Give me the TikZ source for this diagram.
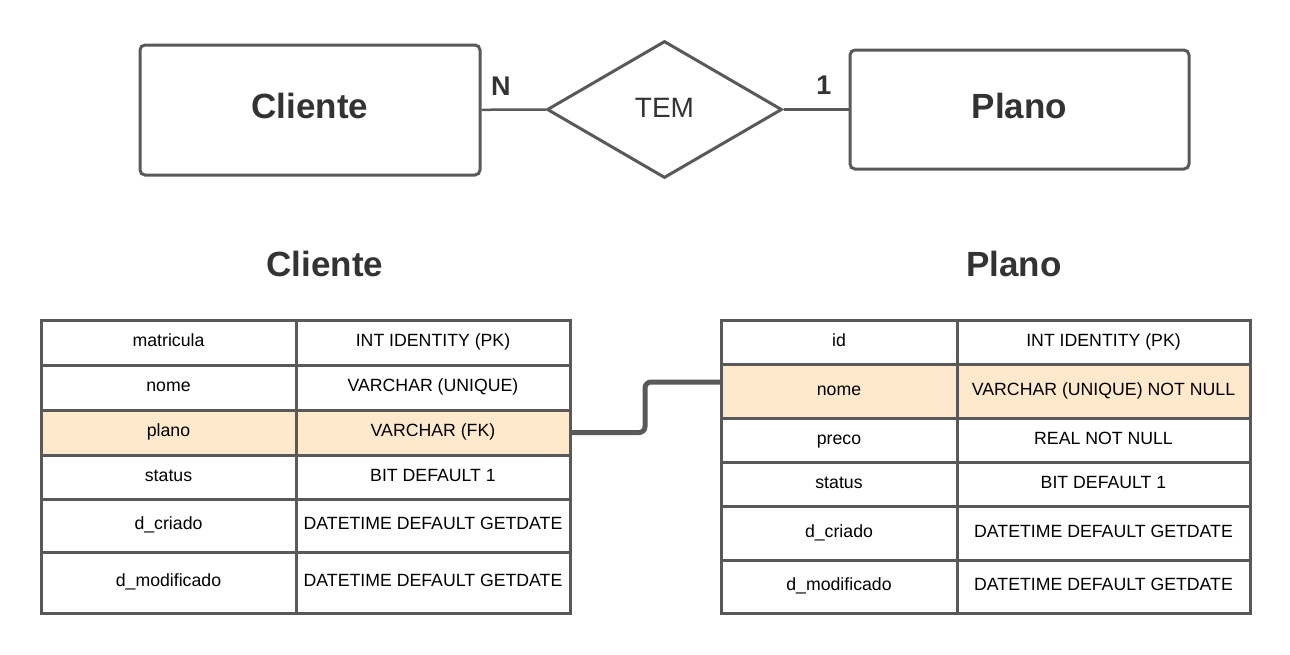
\documentclass[tikz,border=0pt]{standalone}
\usepackage{fontspec}
\setmainfont{Liberation Sans}
\usetikzlibrary{shapes.geometric}
\usetikzlibrary{positioning}
\definecolor{linegray}{HTML}{595959}
\definecolor{textgray}{HTML}{333333}
\definecolor{keyfill}{HTML}{FFE9CC}

\begin{document}
\begin{tikzpicture}[x=1pt,y=-1pt,
    entity/.style={draw=linegray,line width=3pt,rounded corners=5pt,inner sep=0pt,
                   font=\fontsize{35}{42}\selectfont\bfseries,text=textgray,text height=25pt,text depth=8pt},
    relation/.style={diamond,draw=linegray,line width=3pt,aspect=1.72,inner sep=0pt,
                     minimum width=235pt,minimum height=137pt,font=\fontsize{28}{34}\selectfont,text=textgray,
                     text height=20pt,text depth=4pt},
    heading/.style={font=\fontsize{35}{42}\selectfont\bfseries,text=textgray,text height=25pt,text depth=0pt},
    card/.style={font=\fontsize{27}{32}\selectfont\bfseries,text=textgray},
    cell/.style={draw=linegray,line width=3pt,fill=white,outer sep=0pt,inner sep=0pt,
                 font=\fontsize{17.7}{21}\selectfont,text height=12.5pt,text depth=4pt},
    key cell/.style={cell,fill=keyfill}]

  \useasboundingbox (0,0) rectangle (1290,654);

  % conceptual model
  \node[entity,minimum width=340pt,minimum height=130pt] (cli) at (310,110) {Cliente};
  \node[relation] (tem) at (664.5,109.5) {TEM};
  \node[entity,minimum width=339pt,minimum height=119pt] (pla) at (1019.5,109.5) {Plano};

  \path[draw=linegray,line width=2.5pt]
    (cli) edge node[card,pos=.3,above=10pt] {N} (tem)
    (tem) edge node[card,pos=.62,above=10pt] {1} (pla);

  % tables
  \node[heading] (tcli) at (325,264) {Cliente};
  \node[heading] (tpla) at (1014,264) {Plano};

  \foreach \ya/\yb/\s/\ka/\kb [count=\i] in {
      320/365/cell/matricula/INT IDENTITY (PK),
      365/410/cell/nome/VARCHAR (UNIQUE),
      410/455/key cell/plano/VARCHAR (FK),
      455/499/cell/status/BIT DEFAULT 1,
      499/552/cell/d\_criado/DATETIME DEFAULT GETDATE,
      552/613/cell/d\_modificado/DATETIME DEFAULT GETDATE} {
    \node[\s,minimum width=255pt,minimum height={(\yb-\ya)*1pt}] (L\i a) at (168.5,{(\ya+\yb)/2}) {\ka};
    \node[\s,minimum width=274pt,minimum height={(\yb-\ya)*1pt}] (L\i b) at (433,{(\ya+\yb)/2}) {\kb};
  }

  \foreach \ya/\yb/\s/\ka/\kb [count=\i] in {
      320/364/cell/id/INT IDENTITY (PK),
      364/418/key cell/nome/VARCHAR (UNIQUE) NOT NULL,
      418/462/cell/preco/REAL NOT NULL,
      462/506/cell/status/BIT DEFAULT 1,
      506/560/cell/d\_criado/DATETIME DEFAULT GETDATE,
      560/613/cell/d\_modificado/DATETIME DEFAULT GETDATE} {
    \node[\s,minimum width=236pt,minimum height={(\yb-\ya)*1pt}] (R\i a) at (839,{(\ya+\yb)/2}) {\ka};
    \node[\s,minimum width=293pt,minimum height={(\yb-\ya)*1pt}] (R\i b) at (1103.5,{(\ya+\yb)/2}) {\kb};
  }

  % foreign key link
  \draw[linegray,line width=5pt,rounded corners=6pt]
    (L3b.east) -- ++(75,0) |- ([yshift=9pt]R2a.west);
\end{tikzpicture}
\end{document}
